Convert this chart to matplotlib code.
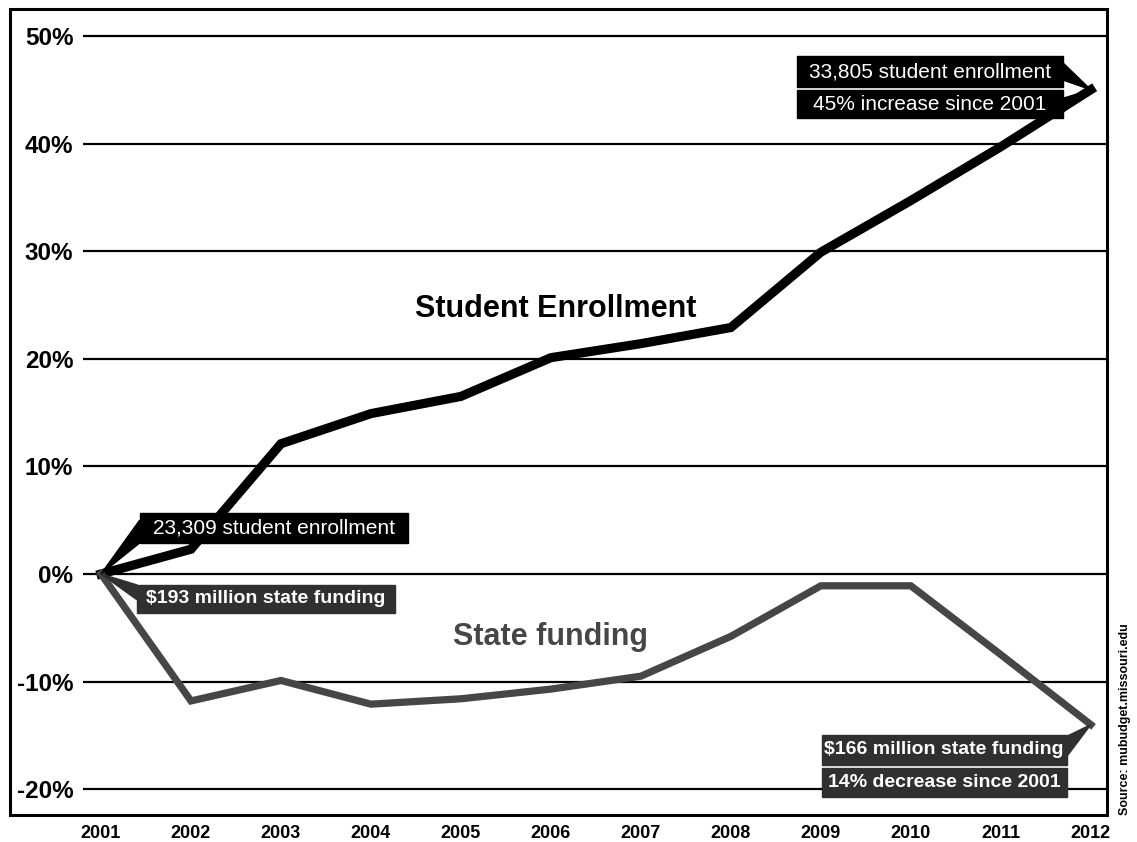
import matplotlib.pyplot as plt
from matplotlib.patches import Rectangle, Polygon

plt.rcParams['font.family'] = ['Liberation Sans', 'DejaVu Sans']

# data (% change since 2001)
years = [2001, 2002, 2003, 2004, 2005, 2006, 2007, 2008, 2009, 2010, 2011, 2012]
enrollment = [0, 2.3, 12.1, 14.9, 16.5, 20.1, 21.4, 22.9, 29.9, 34.7, 39.7, 45.0]
funding = [0, -11.8, -9.9, -12.1, -11.6, -10.7, -9.5, -5.8, -1.1, -1.1, -7.5, -14.0]

yticks = [-20, -10, 0, 10, 20, 30, 40, 50]
ytick_labels = ['-20%', '-10%', '0%', '10%', '20%', '30%', '40%', '50%']

enroll_start = '23,309 student enrollment'
fund_start = '$193 million state funding'
enroll_end = ['33,805 student enrollment', '45% increase since 2001']
fund_end = ['$166 million state funding', '14% decrease since 2001']

fund_color = '#464646'
box_fund = '#303030'

fig = plt.figure(figsize=(11.37, 8.42), dpi=100)
ax = fig.add_axes([83 / 1137, 1 - 815 / 842, (1107 - 83) / 1137, (815 - 9) / 842])

ax.plot(years, enrollment, color='black', lw=6.6, solid_joinstyle='miter', zorder=3)
ax.plot(years, funding, color=fund_color, lw=5.2, solid_joinstyle='miter', zorder=3)

ax.set_xlim(2000.8, 2012.18)
ax.set_ylim(-22.4, 52.5)
ax.set_yticks(yticks)
ax.set_yticklabels(ytick_labels, fontsize=17.5, fontweight='bold')
ax.set_xticks(years)
ax.set_xticklabels([str(y) for y in years], fontsize=13, fontweight='bold')
ax.tick_params(length=0)
ax.tick_params(axis='y', pad=7)
ax.tick_params(axis='x', pad=7.5)
ax.yaxis.grid(True, color='black', lw=1.6)
ax.set_axisbelow(True)
for s in ax.spines.values():
    s.set_visible(False)

# series labels
ax.text(2006.05, 24.6, 'Student Enrollment', fontsize=22, fontweight='bold',
        ha='center', va='center')
ax.text(2006.0, -5.9, 'State funding', fontsize=22, fontweight='bold',
        color=fund_color, ha='center', va='center')


def callout(text, box, side, attach, point, fc, weight, size):
    # box = (x0, x1, y0, y1); pointer goes from the box side to the data point
    x0, x1, y0, y1 = box
    ax.add_patch(Rectangle((x0, y0), x1 - x0, y1 - y0, fc=fc, ec=fc, zorder=5))
    if attach is not None:
        ex = x0 if side == 'left' else x1
        ax.add_patch(Polygon([(ex, attach[0]), (ex, attach[1]), point],
                             closed=True, fc=fc, ec=fc, zorder=5))
    ax.text((x0 + x1) / 2, (y0 + y1) / 2, text, color='white', fontsize=size,
            fontweight=weight, ha='center', va='center', zorder=6)


p0e = (years[0], enrollment[0])
p0f = (years[0], funding[0])
p1e = (years[-1], enrollment[-1])
p1f = (years[-1], funding[-1])

callout(enroll_start, (2001.43, 2004.41, 2.88, 5.66), 'left', (5.0, 2.88), p0e,
        'black', 'normal', 15)
callout(fund_start, (2001.40, 2004.27, -3.62, -1.02), 'left', (-1.02, -2.4), p0f,
        box_fund, 'bold', 14)
callout(enroll_end[0], (2008.73, 2011.69, 45.22, 48.10), 'right', (47.5, 45.9), p1e,
        'black', 'normal', 15)
callout(enroll_end[1], (2008.73, 2011.69, 42.34, 44.94), 'right', (44.2, 42.9), p1e,
        'black', 'normal', 15)
callout(fund_end[0], (2009.01, 2011.73, -17.73, -14.95), 'right', (-15.1, -17.0), p1f,
        box_fund, 'bold', 14)
callout(fund_end[1], (2009.01, 2011.73, -20.71, -18.01), 'right', None, p1f,
        box_fund, 'bold', 14)

# outer frame
fig.patches.append(Rectangle((10 / 1137, 1 - 815 / 842), (1107 - 10) / 1137, (815 - 9) / 842,
                             transform=fig.transFigure, fill=False, ec='black', lw=2.2))

fig.text(1125 / 1137, 1 - 815 / 842, 'Source: mubudget.missouri.edu', rotation=90,
         ha='center', va='bottom', fontsize=9, fontweight='bold')

fig.savefig('out.png', dpi=100)
